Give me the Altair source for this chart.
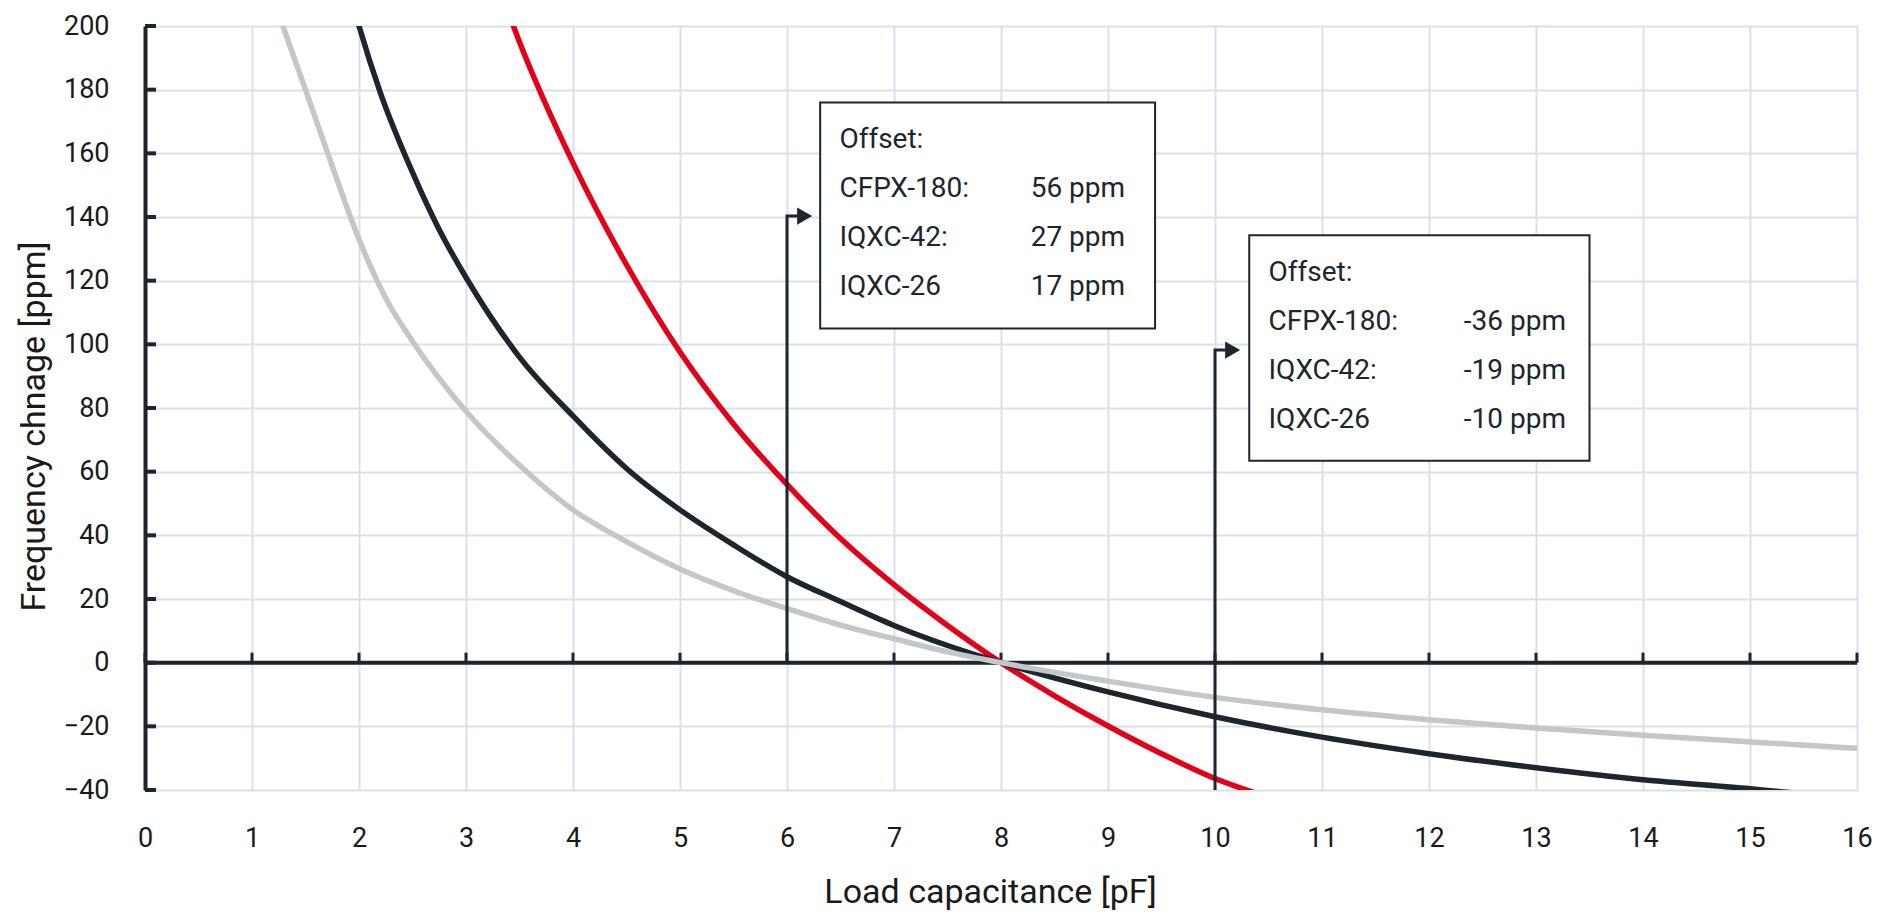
import altair as alt
import pandas as pd

# ---------------- data ----------------
X_TITLE = "Load capacitance [pF]"
Y_TITLE = "Frequency chnage [ppm]"

SERIES = ["CFPX-180", "IQXC-42", "IQXC-26"]
COLORS = ["#e2001a", "#1d252d", "#c3c7c9"]

cfpx180_cl = [3.3, 3.5, 4.0, 4.5, 5.0, 5.5, 6.0, 6.5, 7.0, 7.5, 8.0, 8.5, 9.0, 9.5, 10.0, 10.5]
cfpx180_ppm = [213, 195, 157, 125, 97.6, 75, 56, 39, 24.5, 11.7, 0, -10.4, -19.9, -28.6, -36.4, -42.3]

iqxc42_cl = [1.9, 2.0, 2.2, 2.5, 2.75, 3.0, 3.5, 4.0, 4.5, 5.0, 5.5, 6.0, 6.5, 7.0, 7.5, 8.0,
             9.0, 10.0, 11.0, 12.0, 13.0, 14.0, 15.0, 15.5, 16.0]
iqxc42_ppm = [212, 200, 179, 154, 136, 121, 96, 77.5, 61, 48, 37, 27, 19.2, 11.7, 5.4, 0,
              -9.2, -17, -23.4, -28.6, -33.0, -36.8, -39.6, -41.2, -42.6]

iqxc26_cl = [1.2, 1.29, 1.5, 1.75, 2.0, 2.25, 2.5, 3.0, 3.5, 4.0, 4.5, 5.0, 5.5, 6.0, 6.5,
             7.0, 7.5, 8.0, 9.0, 10.0, 11.0, 12.0, 13.0, 14.0, 15.0, 16.0]
iqxc26_ppm = [209, 200, 180, 156, 133, 114.5, 101, 79, 62, 48, 38, 29.4, 22.6, 17, 11.8,
              7.5, 3.4, 0, -5.8, -10.9, -14.8, -17.9, -20.5, -22.8, -24.9, -26.9]

x_ticks = list(range(0, 17))
y_ticks = list(range(-40, 201, 20))

offset_cl = [6, 10]
offset_title = "Offset:"
offset_names = ["CFPX-180:", "IQXC-42:", "IQXC-26"]
offset_at_6pf = ["56 ppm", "27 ppm", "17 ppm"]
offset_at_10pf = ["-36 ppm", "-19 ppm", "-10 ppm"]

# ---------------- annotation layout (data coordinates) ----------------
ANN_LAYOUT = [
    dict(y0=0, elbow=140.3, bx1=6.31, bx2=9.44, by1=105.0, by2=176.0, tl=6.49, tr=9.16, row0=164.2),
    dict(y0=-40, elbow=98.2, bx1=10.32, bx2=13.5, by1=63.4, by2=134.3, tl=10.50, tr=13.28, row0=122.3),
]
ROW_STEP = 15.36
DARK = "#1d252d"
FONT = "Roboto"

# ---------------- frames ----------------
curve_rows = []
for name, xs_, ys_ in zip(SERIES, [cfpx180_cl, iqxc42_cl, iqxc26_cl], [cfpx180_ppm, iqxc42_ppm, iqxc26_ppm]):
    for i, (a, b) in enumerate(zip(xs_, ys_)):
        curve_rows.append(dict(cl=a, ppm=b, series=name, idx=i))
curve_df = pd.DataFrame(curve_rows)

arrow_rows, head_rows, box_rows, ltext, rtext = [], [], [], [], []
for k, (cl, lay, vals) in enumerate(zip(offset_cl, ANN_LAYOUT, [offset_at_6pf, offset_at_10pf])):
    arrow_rows += [dict(cl=cl, ppm=lay["y0"], g=k, o=0),
                   dict(cl=cl, ppm=lay["elbow"], g=k, o=1),
                   dict(cl=cl + 0.1, ppm=lay["elbow"], g=k, o=2)]
    head_rows.append(dict(cl=cl + 0.165, ppm=lay["elbow"]))
    box_rows.append(dict(cl=lay["bx1"], x2=lay["bx2"], ppm=lay["by1"], y2=lay["by2"]))
    ltext.append(dict(cl=lay["tl"], ppm=lay["row0"], t=offset_title))
    for r, (nm, v) in enumerate(zip(offset_names, vals)):
        yy = lay["row0"] - ROW_STEP * (r + 1)
        ltext.append(dict(cl=lay["tl"], ppm=yy, t=nm))
        rtext.append(dict(cl=lay["tr"], ppm=yy, t=v))

xs = alt.Scale(domain=[0, 16], nice=False, zero=False)
ys = alt.Scale(domain=[-40, 200], nice=False, zero=False)

x_axis = alt.Axis(values=x_ticks, title=X_TITLE, domain=False, ticks=False, tickSize=0,
                  labelPadding=35, labelFlush=False, grid=True, titleX=845, titleY=112,
                  titleBaseline="alphabetic", titleAlign="center")
y_axis = alt.Axis(values=y_ticks, title=Y_TITLE, domain=True, domainColor=DARK, domainWidth=4,
                  ticks=False, tickSize=0, labelPadding=36, labelFlush=False, grid=True,
                  titleX=-111, titleY=400, titleBaseline="middle", titleAlign="center", titleAngle=-90)


def X(f="cl:Q"):
    return alt.X(f, scale=xs, axis=x_axis, title=X_TITLE)


def Y(f="ppm:Q"):
    return alt.Y(f, scale=ys, axis=y_axis, title=Y_TITLE)


layers = []
for name, col in zip(SERIES, COLORS):
    c = alt.Chart(curve_df).transform_filter(alt.datum.series == name).mark_line(
        strokeWidth=5.5, clip=True, interpolate="monotone", color=col
    ).encode(x=X(), y=Y(), order="idx:Q")
    layers.append(c)

zero_df = pd.DataFrame({"cl": [x_ticks[0]], "x2": [x_ticks[-1]], "ppm": [0]})
zero_line = alt.Chart(zero_df).mark_rule(strokeWidth=4, color=DARK).encode(
    x=X(), x2="x2:Q", y=Y()
)

x_tick_marks = alt.Chart(pd.DataFrame({"cl": x_ticks, "ppm": [0] * len(x_ticks)})).mark_tick(
    orient="vertical", size=10, thickness=3, yOffset=-5, color=DARK, opacity=1
).encode(x=X(), y=Y())

y_tick_marks = alt.Chart(pd.DataFrame({"ppm": y_ticks, "cl": [0] * len(y_ticks)})).mark_tick(
    orient="horizontal", size=11, thickness=4, xOffset=5.5, color=DARK, opacity=1
).encode(y=Y(), x=X())

arrows = alt.Chart(pd.DataFrame(arrow_rows)).mark_line(strokeWidth=3, color=DARK).encode(
    x=X(), y=Y(), detail="g:N", order="o:Q"
)
heads = alt.Chart(pd.DataFrame(head_rows)).mark_point(
    shape="triangle-right", filled=True, size=300, color=DARK, opacity=1
).encode(x=X(), y=Y())

boxes = alt.Chart(pd.DataFrame(box_rows)).mark_rect(
    fill="white", stroke=DARK, strokeWidth=2
).encode(x=X(), x2="x2:Q", y=Y(), y2="y2:Q")

ltexts = alt.Chart(pd.DataFrame(ltext)).mark_text(
    align="left", baseline="middle", font=FONT, fontSize=28, color=DARK
).encode(x=X(), y=Y(), text="t:N")
rtexts = alt.Chart(pd.DataFrame(rtext)).mark_text(
    align="right", baseline="middle", font=FONT, fontSize=28, color=DARK
).encode(x=X(), y=Y(), text="t:N")

chart = alt.layer(
    zero_line, x_tick_marks, y_tick_marks, *layers, arrows, heads, boxes, ltexts, rtexts
).properties(
    width=1712, height=764, autosize="none",
    padding={"left": 137, "top": 18, "right": 17, "bottom": 122},
).configure_view(stroke=None).configure_axis(
    gridColor="#dbe0e8", gridWidth=2, labelFont=FONT, labelFontSize=27, labelColor="#1a1a1a",
    titleFont=FONT, titleFontSize=34, titleFontWeight="normal", titleColor="#1a1a1a",
)

chart.save("out.html", embed_options={"renderer": "svg", "actions": False})
